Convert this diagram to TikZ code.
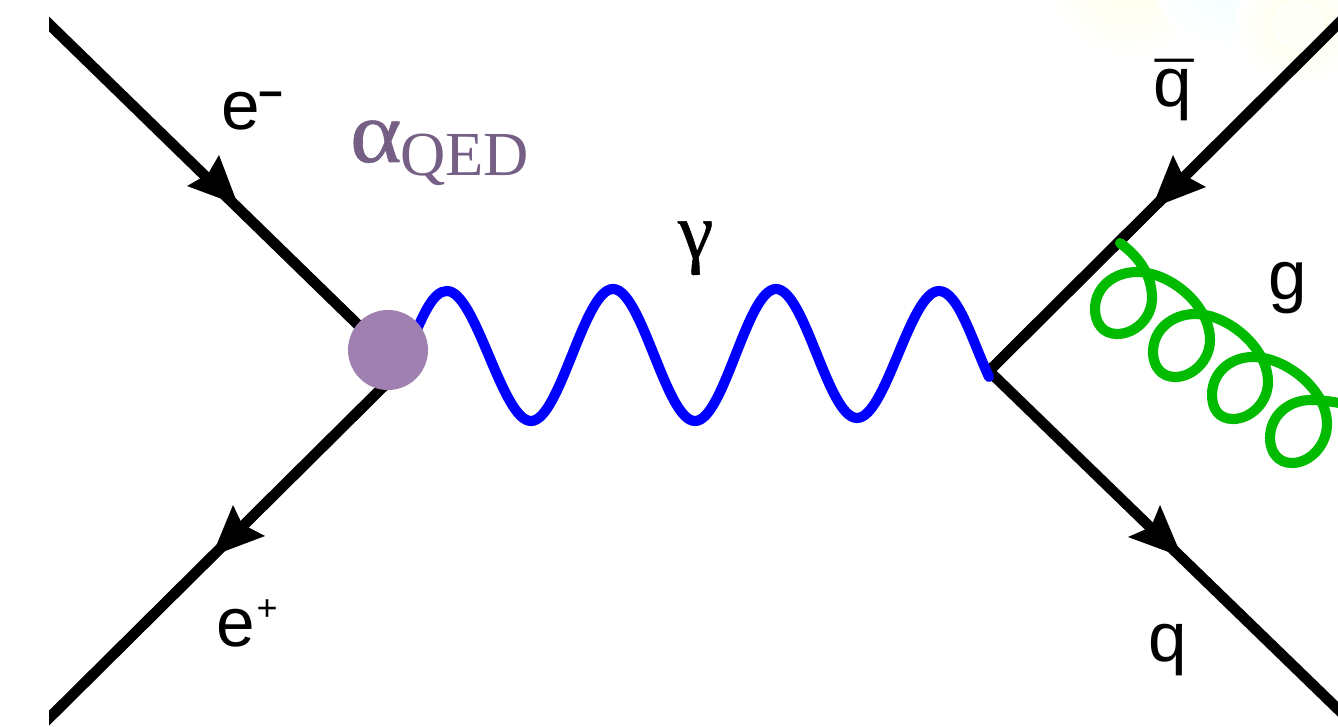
\documentclass[tikz,border=0pt]{standalone}
\usepackage{fontspec}
\setmainfont{Liberation Sans}
\newfontfamily\serifface{Liberation Serif}
\newfontfamily\serifheavy[FakeBold=0.6]{Liberation Serif}
\definecolor{vtx}{HTML}{A080B0}
\definecolor{qedc}{HTML}{755F85}
\definecolor{glu}{HTML}{00BB00}
\definecolor{pho}{HTML}{0000FF}
\tikzset{
 px/.style={x=0.75pt,y=-0.75pt},
 fermion/.style={draw=black,line width=8pt},
 ahead/.style={fill=black,draw=none},
 photon/.style={draw=pho,line width=7.6pt,line cap=round},
 gluon/.style={draw=glu,line width=7.6pt,line cap=round},
 lab/.style={anchor=base west,inner sep=0pt,outer sep=0pt,font=\fontsize{52}{52}\selectfont,text=black}
}
\begin{document}
\begin{tikzpicture}[px]
\useasboundingbox (0,0) rectangle (1338,727);
\fill[white] (0,0) rectangle (1338,727);
% faint flare
\begin{scope}
\clip (1040,0) rectangle (1338,120);
\shade[inner color=yellow!9,outer color=white,draw=none] (1130,-25) circle (85*0.75pt);
\shade[inner color=cyan!5,outer color=white,draw=none] (1225,-20) circle (70*0.75pt);
\shade[inner color=yellow!9,outer color=white,draw=none] (1298,25) circle (62*0.75pt);
\fill[white,opacity=.7] (1298,25) circle (25*0.75pt);
\end{scope}
\coordinate (eminus) at (30,5.5);
\coordinate (eminusin) at (388,354);
\coordinate (eplus) at (30,737);
\coordinate (eplusin) at (388,382);
\coordinate (v2) at (989,371);
\coordinate (qbar) at (1345,17);
\coordinate (qq) at (1345,716);
\begin{scope}
\clip (49,0) rectangle (1338,727);
\draw[fermion] (eminus) -- (eminusin);
\draw[fermion] (eplus) -- (eplusin);
\draw[fermion,line cap=round] (qbar) -- (v2) -- (qq);
\end{scope}
% arrowheads
\fill[ahead] (219,155) -- (238,205) -- (187,186) -- (208,174) -- cycle;
\fill[ahead] (233,505) -- (242,524) -- (265,536) -- (212,556) -- cycle;
\fill[ahead] (1173,155) -- (1182,174) -- (1206,187) -- (1152,208) -- cycle;
\fill[ahead] (1160,505) -- (1182,557) -- (1128,537) -- (1151,527) -- cycle;
% photon
\coordinate (phstart) at (412,340);
\coordinate (phend) at (989,377);
\draw[photon] (phstart) .. controls (424,314) and (433,291) .. (447,291)
 .. controls (476,291) and (502,421) .. (531,421)
 .. controls (560,421) and (584,289) .. (613,289)
 .. controls (642,289) and (666,421) .. (695,421)
 .. controls (724,421) and (747,289) .. (776,289)
 .. controls (805,289) and (828,418) .. (857,418)
 .. controls (886,418) and (910,291) .. (939,291)
 .. controls (958,291) and (972,340) .. (phend);
% gluon
\coordinate (gstart) at (1120,243);
\coordinate (gend) at (1345,404);
\begin{scope}
\clip (0,0) rectangle (1338,727);
\draw[gluon] (gstart) .. controls (1135,254) and (1152,272) .. (1152,298)
 .. controls (1152,318) and (1135,334) .. (1117,334)
 .. controls (1103,334) and (1095,323) .. (1095,309)
 .. controls (1095,287) and (1114,272) .. (1137,272)
 .. controls (1170,272) and (1210,305) .. (1210,340)
 .. controls (1210,360) and (1193,377) .. (1175,377)
 .. controls (1161,377) and (1153,366) .. (1153,352)
 .. controls (1153,330) and (1172,314) .. (1195,314)
 .. controls (1228,314) and (1268,348) .. (1268,382)
 .. controls (1268,402) and (1251,419) .. (1233,419)
 .. controls (1219,419) and (1212,409) .. (1212,395)
 .. controls (1212,373) and (1230,357) .. (1253,357)
 .. controls (1286,357) and (1327,390) .. (1327,424)
 .. controls (1327,445) and (1310,463) .. (1292,463)
 .. controls (1278,463) and (1270,452) .. (1270,438)
 .. controls (1270,416) and (1288,400) .. (1311,400)
 .. controls (1322,400) and (1334,402) .. (gend);
\end{scope}
% vertex
\node[circle,fill=vtx,draw=none,minimum size=60pt,inner sep=0pt] (v1) at (388,350) {};
% labels
\node[lab] (le) at (221,130) {e\kern-0.5pt\raisebox{16pt}{\fontsize{32}{32}\selectfont\bfseries −}};
\node[lab] (lp) at (216,646) {e\kern1.5pt\raisebox{19pt}{\fontsize{27}{27}\selectfont +}};
\node[lab] (lqb) at (1153,107) {\rlap{\kern2pt\raisebox{-3.5pt}{¯}}q};
\node[lab] (lq) at (1148,661) {q};
\node[lab] (lg) at (1268,300) {g};
\node[lab,text=qedc,font=\serifface\fontsize{47}{47}\selectfont] (la) at (350,162) {\scalebox{1.12}[1]{\serifheavy\fontsize{66}{66}\selectfont α}\kern-1pt\raisebox{-10.5pt}{QED}};
\node[lab,font=\serifheavy\fontsize{60}{60}\selectfont] (lga) at (678,258) {γ};
\end{tikzpicture}
\end{document}
